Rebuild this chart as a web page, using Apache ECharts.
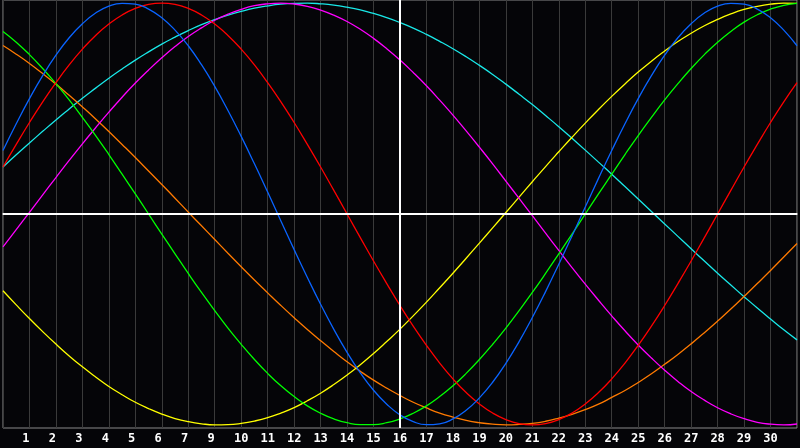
<!DOCTYPE html>
<html>
<head>
<meta charset="utf-8">
<script src="https://cdn.jsdelivr.net/npm/echarts@6/dist/echarts.min.js"></script>
<style>
  html, body { margin: 0; padding: 0; background: #050508; }
  #chart { width: 800px; height: 448px; }
</style>
</head>
<body>
<div id="chart"></div>
<script>
// day labels under the grid lines (there is no "8" in the source)
const dayLabels = ['1', '2', '3', '4', '5', '6', '7', '9', '10', '11', '12', '13', '14', '15',
  '16', '17', '18', '19', '20', '21', '22', '23', '24', '25', '26', '27', '28', '29', '30']

// curve values, every half day from day 0 to day 30 (-100..100)
const blueVals = [30.1, 42.8, 54.7, 65.6, 75.3, 83.6, 90.2, 95.3, 98.6, 99.9, 99.5, 97.2, 93.1, 87.2, 79.8, 70.8, 60.5, 49.1, 36.8, 23.8, 10.4, -3.3, -16.9, -30.1, -42.8, -54.7, -65.6, -75.3, -83.6, -90.2, -95.3, -98.5, -99.9, -99.5, -97.2, -93.1, -87.2, -79.8, -70.8, -60.5, -49.1, -36.8, -23.8, -10.4, 3.3, 16.9, 30.1, 42.8, 54.7, 65.6, 75.3, 83.6, 90.2, 95.3, 98.6, 99.9, 99.5, 97.2, 93.1, 87.2, 79.8]
const redVals = [22.3, 33.0, 43.4, 53.2, 62.3, 70.7, 78.2, 84.7, 90.1, 94.4, 97.5, 99.4, 100, 99.4, 97.5, 94.4, 90.1, 84.7, 78.2, 70.7, 62.3, 53.2, 43.4, 33.0, 22.3, 11.2, 0, -11.2, -22.3, -33.0, -43.4, -53.2, -62.3, -70.7, -78.2, -84.7, -90.1, -94.4, -97.5, -99.4, -100, -99.4, -97.5, -94.4, -90.1, -84.7, -78.2, -70.7, -62.3, -53.2, -43.4, -33.0, -22.3, -11.2, 0, 11.2, 22.3, 33.0, 43.4, 53.2, 62.3]
const greenVals = [86.6, 81.5, 75.6, 69.0, 61.8, 54.1, 45.8, 37.2, 28.2, 18.9, 9.5, 0, -9.5, -18.9, -28.2, -37.2, -45.8, -54.1, -61.8, -69.0, -75.6, -81.5, -86.6, -91.0, -94.5, -97.2, -99.0, -99.9, -99.9, -99.0, -97.2, -94.5, -91.0, -86.6, -81.5, -75.6, -69.0, -61.8, -54.1, -45.8, -37.2, -28.2, -18.9, -9.5, 0, 9.5, 18.9, 28.2, 37.2, 45.8, 54.1, 61.8, 69.0, 75.6, 81.5, 86.6, 91.0, 94.5, 97.2, 99.0, 99.9]
const magentaVals = [-15.6, -7.4, 0.8, 9.1, 17.3, 25.4, 33.3, 40.9, 48.3, 55.4, 62.1, 68.3, 74.1, 79.4, 84.2, 88.3, 91.9, 94.8, 97.1, 98.8, 99.7, 100.0, 99.6, 98.5, 96.7, 94.3, 91.3, 87.6, 83.3, 78.4, 73.0, 67.1, 60.8, 54.0, 46.9, 39.4, 31.7, 23.8, 15.6, 7.4, -0.8, -9.1, -17.3, -25.4, -33.3, -40.9, -48.3, -55.4, -62.1, -68.3, -74.1, -79.4, -84.2, -88.3, -91.9, -94.8, -97.1, -98.8, -99.7, -100.0, -99.6]
const yellowVals = [-36.4, -43.1, -49.6, -55.8, -61.7, -67.3, -72.5, -77.3, -81.8, -85.7, -89.3, -92.3, -94.9, -97.0, -98.5, -99.5, -100.0, -99.9, -99.3, -98.2, -96.6, -94.4, -91.8, -88.6, -85.0, -80.9, -76.4, -71.5, -66.2, -60.5, -54.6, -48.3, -41.8, -35.0, -28.1, -21.0, -13.8, -6.6, 0.7, 8.0, 15.3, 22.5, 29.5, 36.4, 43.1, 49.6, 55.8, 61.7, 67.3, 72.5, 77.3, 81.8, 85.7, 89.3, 92.3, 94.9, 97.0, 98.5, 99.5, 100.0, 99.9]
const orangeVals = [79.9, 75.8, 71.4, 66.6, 61.6, 56.3, 50.8, 45.1, 39.1, 33.0, 26.8, 20.4, 14.0, 7.5, 0.9, -5.6, -12.1, -18.6, -25.0, -31.3, -37.4, -43.4, -49.2, -54.8, -60.1, -65.2, -70.1, -74.6, -78.8, -82.6, -86.1, -89.3, -92.0, -94.4, -96.3, -97.9, -99.0, -99.7, -100.0, -99.8, -99.3, -98.3, -96.8, -95.0, -92.8, -90.2, -87.0, -83.7, -79.9, -75.8, -71.3, -66.6, -61.6, -56.3, -50.8, -45.1, -39.1, -33.0, -26.8, -20.4, -14.0]
const cyanVals = [22.3, 28.1, 33.7, 39.2, 44.6, 49.8, 54.9, 59.7, 64.4, 68.8, 73.0, 76.9, 80.6, 83.9, 87.0, 89.8, 92.2, 94.3, 96.1, 97.6, 98.7, 99.5, 99.9, 100.0, 99.7, 99.1, 98.1, 96.8, 95.1, 93.1, 90.8, 88.2, 85.2, 81.9, 78.4, 74.6, 70.5, 66.2, 61.6, 56.8, 51.9, 46.7, 41.4, 35.9, 30.3, 24.6, 18.9, 13.0, 7.1, 1.2, -4.7, -10.6, -16.5, -22.3, -28.1, -33.7, -39.2, -44.6, -49.8, -54.9, -59.7]

// white "today" marker sits on the 16 line (day column 15)
const todayDay = 15

// one category per half day; only whole days carry a label
const slots = blueVals.map((v, i) => {
    if (i % 2 !== 0) return ''
    const d = i / 2
    return d >= 1 && d <= dayLabels.length ? dayLabels[d - 1] : ''
})

const chart = echarts.init(document.getElementById('chart'))

const curve = (name, color, data) => ({
    name: name,
    type: 'line',
    data: data,
    smooth: 0.5,
    symbol: 'none',
    lineStyle: { color: color, width: 1.3 },
    itemStyle: { color: color },
})

const series = [
    curve('cyan', '#19e8e8', cyanVals),
    curve('orange', '#ff7a00', orangeVals),
    curve('yellow', '#ffff00', yellowVals),
    curve('magenta', '#ff00ff', magentaVals),
    curve('green', '#00ff00', greenVals),
    curve('red', '#ff0000', redVals),
    curve('blue', '#0a64ff', blueVals),
]
series[0].markLine = {
    silent: true,
    symbol: 'none',
    label: { show: false },
    lineStyle: { color: '#ffffff', width: 2, type: 'solid' },
    data: [{ yAxis: 0 }, { xAxis: todayDay * 2 }],
}

chart.setOption({
    backgroundColor: '#050508',
    animation: false,
    grid: {
        left: 1,
        right: 1,
        top: 0,
        bottom: 20,
        show: true,
        borderColor: '#8a8a8a',
        borderWidth: 1,
    },
    xAxis: {
        type: 'category',
        data: slots,
        boundaryGap: false,
        axisTick: { show: false },
        axisLine: { show: true, lineStyle: { color: '#9a9a9a', width: 2 } },
        axisLabel: {
            interval: 0,
            color: '#ffffff',
            fontFamily: 'DejaVu Sans Mono',
            fontWeight: 'bold',
            fontSize: 12,
            margin: 5,
            // single digits sit a half character left, as in the source
            formatter: (s) => (s.length === 1 ? s + ' ' : s),
        },
        splitLine: { show: true, interval: 1, lineStyle: { color: '#3a3a3a', width: 1 } },
    },
    yAxis: {
        type: 'value',
        min: -101.5,
        max: 101.5,
        show: false,
        splitLine: { show: false },
    },
    series: series,
})
</script>
</body>
</html>
